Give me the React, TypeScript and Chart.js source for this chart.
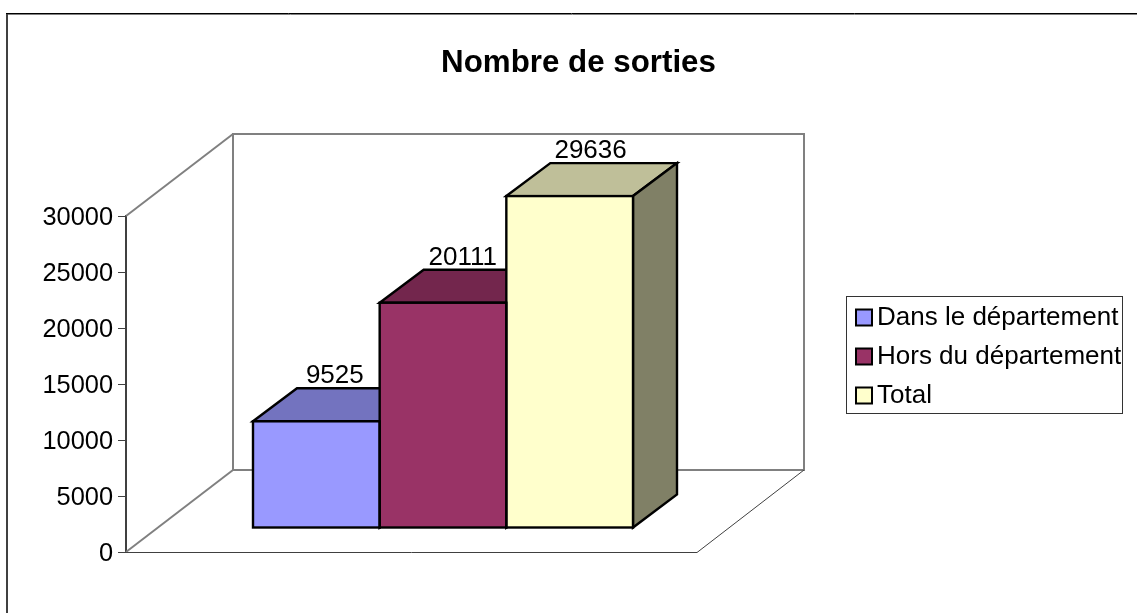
import React, { useEffect, useRef } from "react";
import { Chart, registerables } from "chart.js";

Chart.register(...registerables);

const titleText = "Nombre de sorties";
const categories = [""];
const seriesNames = ["Dans le département", "Hors du département", "Total"];
const dansValues = [9525];
const horsValues = [20111];
const totalValues = [29636];
const frontColors = ["#9999FF", "#993366", "#FFFFCC"];
const topColors = ["#7373BF", "#73264D", "#BFBF99"];
const sideColors = ["#4D4D80", "#4D1A33", "#808066"];

const FONT = '"Liberation Sans", Arial, sans-serif';
const BAR_DX = 31.5, BAR_DY = -24;
const DEPTH_X = 44, DEPTH_Y = -33;
const WALL_DX = 107, WALL_DY = -82;
const FRAME_GRAY = "#808080";
const LEGEND_PAD = 13;
const LEGEND_FONT = 26;
const LEGEND_BOX = 9; // text offset given to the legend; swatches are drawn 18px wide

function line(ctx: any, pts: number[][], close = false) {
  ctx.beginPath();
  pts.forEach((p, i) => (i ? ctx.lineTo(p[0], p[1]) : ctx.moveTo(p[0], p[1])));
  if (close) ctx.closePath();
}

const scene = {
  id: "scene",
  afterLayout(chart: any) {
    const t = chart.titleBlock;
    if (t) { t.left = 20; t.right = 1137; t.top = 44.4; }
    const l = chart.legend;
    if (l) {
      l.left = 842; l.right = l.left + l.width;
      l.top = 291.5; l.bottom = l.top + l.height;
    }
  },
  beforeDraw(chart: any) {
    const { ctx } = chart;
    ctx.save();
    // outer frame: only the left and top edges are in the picture
    ctx.strokeStyle = "#404040";
    ctx.lineWidth = 2;
    line(ctx, [[7, 613], [7, 14]]);
    ctx.stroke();
    ctx.strokeStyle = "#000000";
    ctx.lineWidth = 1;
    line(ctx, [[6, 13.5], [1137, 13.5]]);
    ctx.stroke();
    ctx.strokeStyle = "#808080";
    line(ctx, [[8, 14.5], [1137, 14.5]]);
    ctx.stroke();

    // legend frame
    ctx.strokeStyle = "#333333";
    ctx.lineWidth = 1;
    ctx.strokeRect(846.5, 296.5, 276, 117);
    ctx.restore();
  },
  beforeDatasetsDraw(chart: any) {
    const { ctx, chartArea: a } = chart;
    ctx.save();
    // walls
    ctx.strokeStyle = FRAME_GRAY;
    ctx.lineWidth = 2;
    line(ctx, [
      [a.left + WALL_DX, a.bottom + WALL_DY],
      [a.left + WALL_DX, a.top + WALL_DY],
      [a.right + WALL_DX, a.top + WALL_DY],
      [a.right + WALL_DX, a.bottom + WALL_DY],
    ], true);
    ctx.stroke();
    line(ctx, [[a.left, a.top], [a.left + WALL_DX, a.top + WALL_DY]]);
    ctx.stroke();
    line(ctx, [[a.left, a.bottom], [a.left + WALL_DX, a.bottom + WALL_DY]]);
    ctx.stroke();
    ctx.strokeStyle = "#404040";
    ctx.lineWidth = 1;
    line(ctx, [[a.left, a.bottom + 0.5], [a.right, a.bottom + 0.5], [a.right + WALL_DX, a.bottom + WALL_DY]]);
    ctx.stroke();
    ctx.restore();

    // bar depth: tops and sides, from the library's bar elements
    ctx.save();
    ctx.translate(BAR_DX, BAR_DY);
    ctx.strokeStyle = "#000000";
    ctx.lineWidth = 2.4;
    chart.data.datasets.forEach((_: any, i: number) => {
      const bar = chart.getDatasetMeta(i).data[0];
      const { x, y, base, width } = bar.getProps(["x", "y", "base", "width"], true);
      const x0 = x - width / 2, x1 = x + width / 2;
      ctx.fillStyle = topColors[i];
      line(ctx, [[x0, y], [x0 + DEPTH_X, y + DEPTH_Y], [x1 + DEPTH_X, y + DEPTH_Y], [x1, y]], true);
      ctx.fill();
      ctx.stroke();
      ctx.fillStyle = sideColors[i];
      line(ctx, [[x1, y], [x1 + DEPTH_X, y + DEPTH_Y], [x1 + DEPTH_X, base + DEPTH_Y], [x1, base]], true);
      ctx.fill();
      ctx.stroke();
    });
    // the fronts are filled by Chart.js inside this translation
  },
  afterDatasetsDraw(chart: any) {
    const { ctx } = chart;
    ctx.strokeStyle = "#000000";
    ctx.lineWidth = 2.4;
    chart.data.datasets.forEach((_: any, i: number) => {
      const bar = chart.getDatasetMeta(i).data[0];
      const { x, y, base, width } = bar.getProps(["x", "y", "base", "width"], true);
      ctx.strokeRect(x - width / 2, y, width, base - y);
    });
    ctx.restore();
    ctx.save();
    ctx.font = `26px ${FONT}`;
    ctx.fillStyle = "#000000";
    ctx.textAlign = "center";
    ctx.textBaseline = "alphabetic";
    chart.data.datasets.forEach((ds: any, i: number) => {
      const bar = chart.getDatasetMeta(i).data[0];
      const { x, y } = bar.getProps(["x", "y"], true);
      ctx.fillText(String(ds.data[0]), x + BAR_DX + 18.5 + i * 1.2, y + BAR_DY + DEPTH_Y - 5);
    });
    ctx.restore();
  },
  afterDraw(chart: any) {
    const { ctx } = chart;
    const l = chart.legend;
    ctx.save();
    ctx.strokeStyle = "#000000";
    ctx.lineWidth = 2;
    seriesNames.forEach((_, i) => {
      const bx = l.left + LEGEND_PAD + 1;
      const cy = l.top + LEGEND_PAD + LEGEND_FONT / 2 + i * (LEGEND_FONT + LEGEND_PAD);
      ctx.fillStyle = frontColors[i];
      ctx.fillRect(bx, cy - 8, 16, 16);
      ctx.strokeRect(bx, cy - 8, 16, 16);
    });
    ctx.restore();
  },
};

export default function App() {
  const ref = useRef<HTMLCanvasElement>(null);
  useEffect(() => {
    const chart = new Chart(ref.current as HTMLCanvasElement, {
      type: "bar",
      data: {
        labels: categories,
        datasets: [
          { label: seriesNames[0], data: dansValues, backgroundColor: frontColors[0] },
          { label: seriesNames[1], data: horsValues, backgroundColor: frontColors[1] },
          { label: seriesNames[2], data: totalValues, backgroundColor: frontColors[2] },
        ].map((d) => ({
          ...d,
          borderWidth: 0,
          categoryPercentage: 0.6655,
          barPercentage: 1,
        })),
      },
      options: {
        responsive: false,
        animation: false,
        layout: { padding: { left: 0, right: 440, top: 0, bottom: 53 } },
        scales: {
          x: {
            grid: { display: false },
            border: { display: false },
            ticks: { display: false },
          },
          y: {
            min: 0,
            max: 30000,
            afterFit(scale: any) { scale.width = 126; },
            grid: { drawOnChartArea: false, tickColor: "#404040", tickLength: 8, tickWidth: 1 },
            border: { color: "#404040", width: 2 },
            ticks: {
              stepSize: 5000,
              color: "#000000",
              padding: 5,
              labelOffset: 1.5,
              callback: (v: any) => String(v),
              font: { family: FONT, size: 25.4 },
            },
          },
        },
        plugins: {
          title: {
            display: true,
            text: titleText,
            color: "#000000",
            font: { family: FONT, size: 31.3, weight: "bold" },
            padding: { top: 0, bottom: 178.44 },
          },
          legend: {
            position: "chartArea",
            align: "start",
            labels: {
              color: "#000000",
              boxWidth: LEGEND_BOX,
              boxHeight: 16,
              padding: LEGEND_PAD,
              font: { family: FONT, size: LEGEND_FONT },
              generateLabels: (chart: any) =>
                Chart.defaults.plugins.legend.labels
                  .generateLabels(chart)
                  .map((it: any) => ({ ...it, fillStyle: "rgba(0,0,0,0)", strokeStyle: "rgba(0,0,0,0)", lineWidth: 0 })),
            },
          },
          tooltip: { enabled: false },
        },
      },
      plugins: [scene],
    } as any);
    return () => chart.destroy();
  }, []);
  return (
    <div style={{ position: "absolute", left: 0, top: 0, width: 1137, height: 613, background: "#fff" }}>
      <canvas ref={ref} width={1137} height={613} style={{ display: "block" }} />
    </div>
  );
}
